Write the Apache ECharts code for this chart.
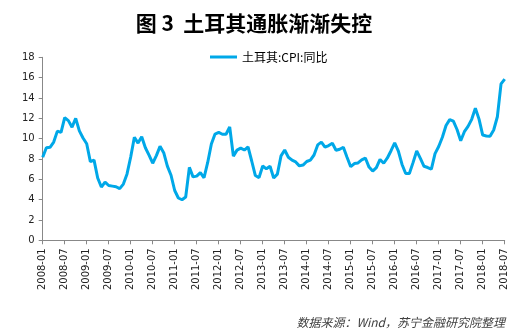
<!DOCTYPE html>
<html>
<head>
<meta charset="utf-8">
<script src="https://cdn.jsdelivr.net/npm/echarts@6/dist/echarts.min.js"></script>
<style>
html,body{margin:0;padding:0;background:#fff;}
#c{width:519px;height:331px;}
</style>
</head>
<body>
<div id="c"></div>
<script>
var title = '图 3  土耳其通胀渐渐失控';
var seriesName = '土耳其:CPI:同比';
var source = '数据来源：Wind，苏宁金融研究院整理';
var years = [2008,2009,2010,2011,2012,2013,2014,2015,2016,2017,2018];
var lastYearMonths = 7;
var yTicks = {min: 0, max: 18, interval: 2};

var cpi2008 = [8.17,9.10,9.15,9.66,10.74,10.61,12.06,11.77,11.13,11.99,10.76,10.06];
var cpi2009 = [9.50,7.73,7.89,6.13,5.24,5.73,5.39,5.33,5.27,5.08,5.53,6.53];
var cpi2010 = [8.19,10.13,9.56,10.19,9.10,8.37,7.58,8.33,9.24,8.62,7.29,6.40];
var cpi2011 = [4.90,4.16,3.99,4.26,7.17,6.24,6.31,6.65,6.15,7.66,9.48,10.45];
var cpi2012 = [10.61,10.43,10.43,11.14,8.28,8.87,9.07,8.88,9.19,7.80,6.37,6.16];
var cpi2013 = [7.31,7.03,7.29,6.13,6.51,8.30,8.88,8.17,7.88,7.71,7.32,7.40];
var cpi2014 = [7.75,7.89,8.39,9.38,9.66,9.16,9.32,9.54,8.86,8.96,9.15,8.17];
var cpi2015 = [7.24,7.55,7.61,7.91,8.09,7.20,6.81,7.14,7.95,7.58,8.10,8.81];
var cpi2016 = [9.58,8.78,7.46,6.57,6.58,7.64,8.79,8.05,7.28,7.16,7.00,8.53];
var cpi2017 = [9.22,10.13,11.29,11.87,11.72,10.90,9.79,10.68,11.20,11.90,12.98,11.92];
var cpi2018 = [10.35,10.26,10.23,10.85,12.15,15.39,15.85];

var values = [].concat(cpi2008,cpi2009,cpi2010,cpi2011,cpi2012,cpi2013,cpi2014,cpi2015,cpi2016,cpi2017,cpi2018);
var categories = [];
years.forEach(function(y, i){
  var n = (i === years.length - 1) ? lastYearMonths : 12;
  for (var m = 1; m <= n; m++) categories.push(y + '-' + (m < 10 ? '0' + m : m));
});

var chart = echarts.init(document.getElementById('c'), null, {renderer: 'canvas'});
chart.setOption({
  animation: false,
  backgroundColor: '#ffffff',
  title: [{
    text: title,
    left: 249, top: 8,
    textAlign: 'center',
    textStyle: {fontFamily: 'Noto Sans CJK SC', fontSize: 21, fontWeight: 'bold', color: '#000'}
  }, {
    text: source,
    right: 9, top: 311,
    textStyle: {fontFamily: 'Noto Sans CJK SC', fontSize: 12, fontStyle: 'italic', fontWeight: 'normal', color: '#404040'}
  }],
  legend: {
    data: [seriesName],
    left: 205, top: 46,
    icon: 'rect',
    itemWidth: 27, itemHeight: 3, itemGap: 5,
    textStyle: {fontFamily: 'Noto Sans CJK SC', fontSize: 12, color: '#000'}
  },
  grid: {left: 42.7, right: 14.3, top: 57.3, bottom: 90.7, containLabel: false},
  xAxis: {
    type: 'category',
    data: categories,
    boundaryGap: false,
    axisLine: {lineStyle: {color: '#888', width: 1}},
    axisTick: {show: true, interval: 5, length: 4, lineStyle: {color: '#888'}},
    axisLabel: {interval: 5, rotate: 90, margin: 8, fontFamily: 'DejaVu Sans', fontSize: 10, color: '#222'},
    splitLine: {show: false}
  },
  yAxis: {
    type: 'value',
    min: yTicks.min, max: yTicks.max, interval: yTicks.interval,
    axisLine: {show: true, lineStyle: {color: '#888', width: 1}},
    axisTick: {show: true, length: 4, lineStyle: {color: '#888'}},
    axisLabel: {margin: 8, fontFamily: 'DejaVu Sans', fontSize: 10, color: '#222'},
    splitLine: {show: false}
  },
  series: [{
    name: seriesName,
    type: 'line',
    data: values,
    showSymbol: false,
    symbol: 'none',
    lineStyle: {color: '#00A8E8', width: 3},
    itemStyle: {color: '#00A8E8'}
  }]
});
</script>
</body>
</html>
